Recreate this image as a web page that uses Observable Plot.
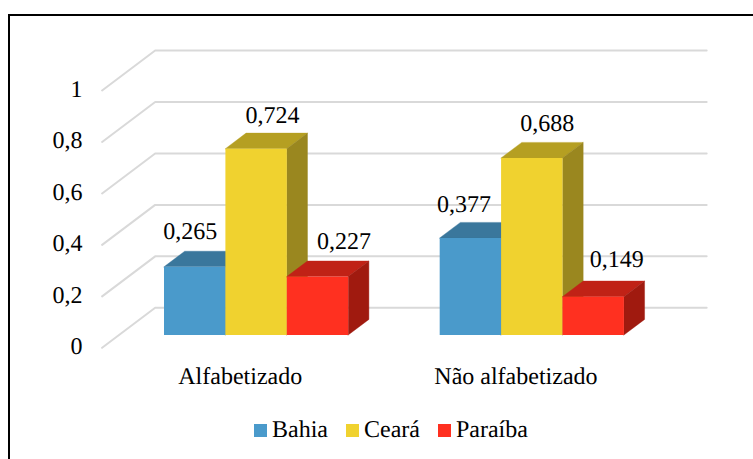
<!DOCTYPE html>
<html lang="pt">
<head>
<meta charset="utf-8">
<script src="https://cdn.jsdelivr.net/npm/d3@7"></script>
<script src="https://cdn.jsdelivr.net/npm/@observablehq/plot@0.6"></script>
<style>
  html, body { margin: 0; padding: 0; background: #fff; overflow: hidden; }
  #page { position: relative; width: 753px; height: 459px; overflow: hidden; font-family: "Liberation Serif", serif; text-rendering: geometricPrecision; }
  #frame { position: absolute; left: 8px; top: 14px; width: 800px; height: 500px; border: 2px solid #000; box-sizing: border-box; }
  #chart { position: absolute; left: 0; top: 0; }
  #legend { position: absolute; left: 254px; top: 417px; white-space: nowrap; }
  #legend svg { margin-right: 5px !important; }
  #legend [class$="-swatch"] { margin-right: 18px !important; color: #000; }
</style>
</head>
<body>
<div id="page"><div id="frame"></div><div id="chart"></div><div id="legend"></div></div>
<script>
const categories = ["Alfabetizado", "Não alfabetizado"];
const states = ["Bahia", "Ceará", "Paraíba"];
const bahia = [0.265, 0.377];
const ceara = [0.724, 0.688];
const paraiba = [0.227, 0.149];
const yTicks = [0, 0.2, 0.4, 0.6, 0.8, 1];

const frontColors = ["#4A9ACB", "#F0D22F", "#FF3020"];
const topColors = ["#3A779C", "#B59F22", "#C02216"];
const sideColors = ["#3A6F90", "#9A871F", "#A01A0F"];
const gridColor = "#D9D9D9";
const labelShift = [[-5, 16, 26], [-7, 15, 23]];
const labelRise = [28, 26, 28, 26, 27, 30];

// layout of the oblique view, in scale units
const barStart = [0, 4.49];     // left end of each group, in bar widths
const depthX = 0.337;           // one bar depth, along x (bar widths)
const depthY = 0.0606;          // one bar depth, along y (value units)
const floorFront = -0.79;       // floor front edge, in bar depths
const floorBack = 1.775;        // back wall, in bar depths
const floorLeft = -0.75;        // left end of the floor, in bar widths
const floorRight = 8.83;        // right end of the back wall
const fmt = (v) => String(v).replace(".", ",");

const series = [bahia, ceara, paraiba];
const bars = categories.flatMap((category, c) => states.map((state, s) => ({
  category, state, s, c,
  value: series[s][c],
  left: barStart[c] + s,
  right: barStart[c] + s + 1
})));

const depthRows = (f) => [0, 1].map((d) => f(d));

const faces = bars.flatMap((b, i) => [
  Plot.area(depthRows((d) => ({
    x1: b.left + depthX * d, x2: b.right + depthX * d,
    y1: b.value + depthY * d, y2: b.value + depthY * d
  })), {x1: "x1", x2: "x2", y1: "y1", y2: "y2", fill: topColors[b.s], stroke: topColors[b.s], strokeWidth: 0.4}),
  Plot.area(depthRows((d) => ({
    x1: b.right + depthX * d, x2: b.right + depthX * d,
    y1: b.value + depthY * d, y2: depthY * d
  })), {x1: "x1", x2: "x2", y1: "y1", y2: "y2", fill: sideColors[b.s], stroke: sideColors[b.s], strokeWidth: 0.4}),
  Plot.rect([b], {x1: "left", x2: "right", y1: 0, y2: "value", fill: frontColors[b.s], inset: 0}),
  Plot.text([b], {
    x: (d) => (d.left + d.right) / 2, y: "value", text: (d) => fmt(d.value),
    dx: labelShift[b.c][b.s], dy: -labelRise[i], lineAnchor: "bottom", textAnchor: "middle",
    fill: "#000", fontSize: 24
  })
]);

const gridRows = yTicks.flatMap((v) => [
  {v, x: floorLeft + depthX * floorFront, y: v + depthY * floorFront},
  {v, x: floorLeft + depthX * floorBack, y: v + depthY * floorBack},
  {v, x: floorRight, y: v + depthY * floorBack}
]);

const chart = Plot.plot({
  width: 753,
  height: 410,
  marginLeft: 82,
  marginRight: 0,
  marginTop: 0,
  marginBottom: 0,
  style: {background: "transparent", fontFamily: "'Liberation Serif', serif", overflow: "visible"},
  x: {type: "linear", domain: [0, 9], range: [164, 716.6], axis: null},
  y: {type: "linear", domain: [0, 1], range: [335, 77.7], axis: null},
  marks: [
    Plot.line(gridRows, {x: "x", y: "y", z: "v", stroke: gridColor, strokeWidth: 2, curve: "linear"}),
    Plot.axisY({ticks: yTicks, tickSize: 0, tickPadding: 0, anchor: "left", dy: 11, label: null,
      tickFormat: fmt, fontSize: 24, fill: "#000", textAnchor: "end"}),
    ...faces,
    Plot.text(categories, {
      x: (d, i) => barStart[i] + 1.5 + depthX * floorFront,
      y: depthY * floorFront,
      text: (d) => d,
      dy: 36, lineAnchor: "bottom", textAnchor: "middle", fill: "#000", fontSize: 24
    })
  ]
});
document.getElementById("chart").append(chart);

const legend = Plot.legend({
  color: {type: "categorical", domain: states, range: frontColors},
  swatchSize: 13,
  style: {fontSize: "24px", fontFamily: "'Liberation Serif', serif", color: "#000", minHeight: 0, margin: 0}
});
document.getElementById("legend").append(legend);
</script>
</body>
</html>
